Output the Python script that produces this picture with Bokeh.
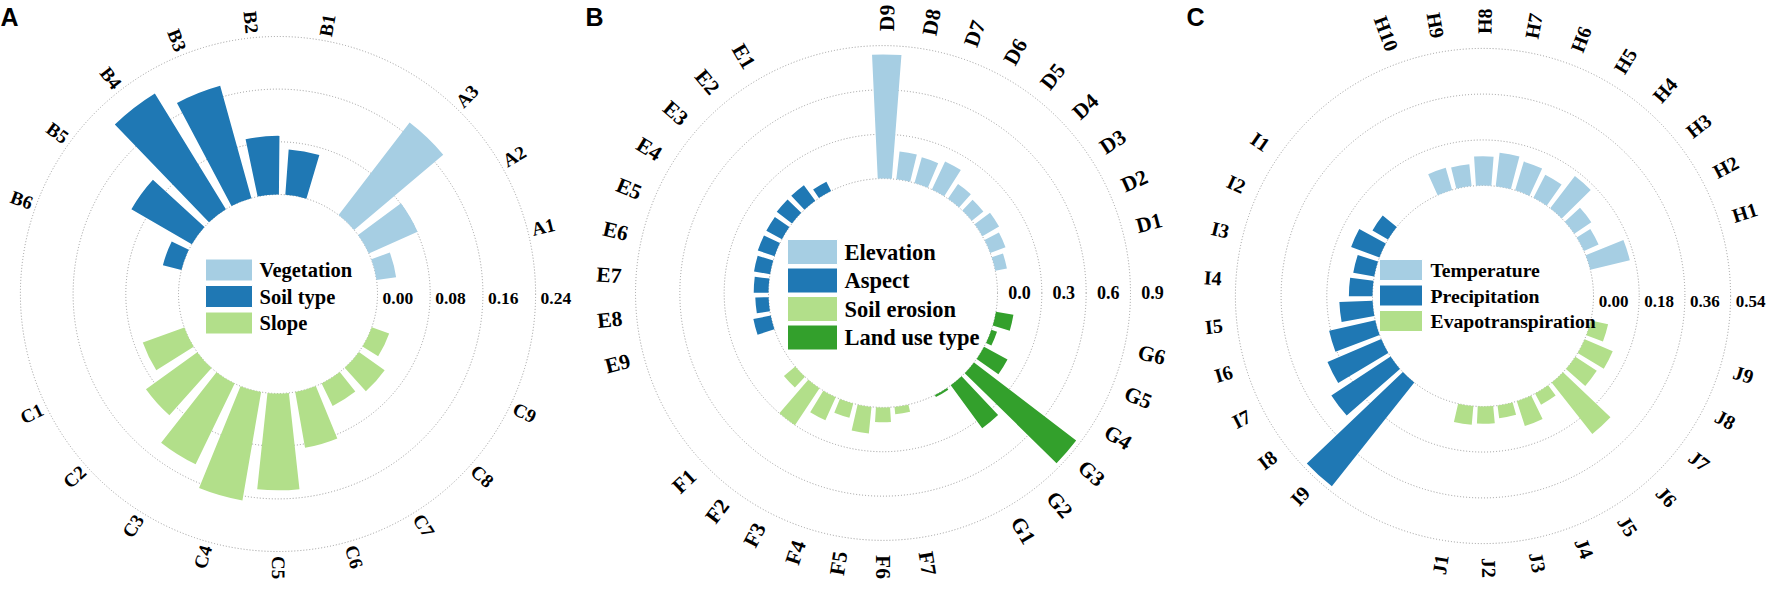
import numpy as np
from bokeh.plotting import figure
from bokeh.models import Range1d
from bokeh.core.properties import value
from bokeh.embed import file_html
from bokeh.resources import INLINE

# ---------------- data ----------------
# Panel A
vegetation_labels = ["A1", "A2", "A3"]
vegetation = [0.030, 0.081, 0.177]
soil_type_labels = ["B1", "B2", "B3", "B4", "B5", "B6"]
soil_type = [0.069, 0.089, 0.177, 0.206, 0.106, 0.029]
slope_labels = ["C1", "C2", "C3", "C4", "C5", "C6", "C7", "C8", "C9"]
slope = [0.067, 0.096, 0.136, 0.167, 0.147, 0.086, 0.038, 0.048, 0.028]
a_ticks = [0.00, 0.08, 0.16, 0.24]
a_tick_labels = ["0.00", "0.08", "0.16", "0.24"]

# Panel B
elevation_labels = ["D1", "D2", "D3", "D4", "D5", "D6", "D7", "D8", "D9"]
elevation = [0.08, 0.11, 0.13, 0.10, 0.12, 0.21, 0.18, 0.19, 0.84]
aspect_labels = ["E1", "E2", "E3", "E4", "E5", "E6", "E7", "E8", "E9"]
aspect = [0.07, 0.13, 0.13, 0.12, 0.12, 0.11, 0.10, 0.09, 0.12]
soil_erosion_labels = ["F1", "F2", "F3", "F4", "F5", "F6", "F7"]
soil_erosion = [0.10, 0.30, 0.17, 0.10, 0.18, 0.10, 0.05]
land_use_labels = ["G1", "G2", "G3", "G4", "G5", "G6"]
land_use_type = [0.015, 0.36, 0.87, 0.18, 0.04, 0.12]
b_ticks = [0.0, 0.3, 0.6, 0.9]
b_tick_labels = ["0.0", "0.3", "0.6", "0.9"]

# Panel C
temperature_labels = ["H1", "H2", "H3", "H4", "H5", "H6", "H7", "H8", "H9", "H10"]
temperature = [0.160, 0.063, 0.081, 0.160, 0.102, 0.118, 0.133, 0.115, 0.086, 0.091]
precipitation_labels = ["I1", "I2", "I3", "I4", "I5", "I6", "I7", "I8", "I9"]
precipitation = [0.071, 0.119, 0.084, 0.093, 0.131, 0.186, 0.230, 0.279, 0.522]
evapo_labels = ["J1", "J2", "J3", "J4", "J5", "J6", "J7", "J8", "J9"]
evapotranspiration = [0.074, 0.068, 0.050, 0.103, 0.050, 0.258, 0.101, 0.120, 0.070]
c_ticks = [0.00, 0.18, 0.36, 0.54]
c_tick_labels = ["0.00", "0.18", "0.36", "0.54"]

# ---------------- style ----------------
LB, DB, LG, DG = "#a6cee3", "#1f78b4", "#b2df8a", "#33a02c"
SERIF = value("Liberation Serif")
SANS = value("Liberation Sans")

W, H = 1766, 580
TOP = 588  # data y = TOP - screen y


def Y(yref):
    return TOP - yref


p = figure(width=W, height=H, x_range=Range1d(8, 8 + W), y_range=Range1d(0, H),
           output_backend="svg", toolbar_location=None, min_border=0,
           x_axis_location=None, y_axis_location=None, outline_line_color=None)
p.grid.visible = False
p.background_fill_color = "white"


def draw_panel(cfg, groups):
    cx, cy = cfg["cx"], Y(cfg["cy"])
    r0, k = cfg["r0"], cfg["k"]
    # dotted rings
    radii = [r0 + t * k for t in cfg["ticks"]]
    p.circle(x=[cx] * len(radii), y=[cy] * len(radii), radius=radii,
             fill_color=None, line_color="#999999", line_width=1, line_dash="1 2")
    slot = cfg["slot"]
    half = slot * cfg["wfrac"] / 2.0
    for (name, labs, vals, color), st in zip(groups, cfg["starts"]):
        ang = st + slot * np.arange(len(vals))
        outer = r0 + np.asarray(vals) * k
        p.annular_wedge(x=cx, y=cy, inner_radius=r0, outer_radius=outer,
                        start_angle=np.deg2rad(ang - half), end_angle=np.deg2rad(ang + half),
                        fill_color=color, line_color=None)
        # category labels
        rs = cfg["rs"]
        a = np.mod(ang, 360)
        right = (a <= 90.5) | (a >= 269.5)
        lx = cx + rs * np.cos(np.deg2rad(a))
        ly = cy + rs * np.sin(np.deg2rad(a))
        labs = np.asarray(labs)
        if right.any():
            p.text(x=lx[right], y=ly[right], text=labs[right], angle=np.deg2rad(a[right]),
                   text_align="left", text_baseline="middle", text_font=SERIF,
                   text_font_style="bold", text_font_size=cfg["lab_fs"], text_color="black")
        left = ~right
        if left.any():
            p.text(x=lx[left], y=ly[left], text=labs[left], angle=np.deg2rad(a[left] - 180),
                   text_align="right", text_baseline="middle", text_font=SERIF,
                   text_font_style="bold", text_font_size=cfg["lab_fs"], text_color="black")
    # tick labels
    tx = [cx + r + cfg["tick_dx"] for r in radii]
    ty = [cy - cfg["tick_dy"]] * len(radii)
    p.text(x=tx, y=ty, text=cfg["tick_labels"], text_align=cfg["tick_align"],
           text_baseline="middle", text_font=SERIF, text_font_style="bold",
           text_font_size=cfg["tick_fs"], text_color="black")
    # legend
    lg = cfg["legend"]
    n = len(groups)
    rows = [Y(lg["y0"] + i * lg["pitch"]) for i in range(n)]
    p.rect(x=[cx + lg["sx"] + lg["sw"] / 2] * n, y=rows, width=lg["sw"], height=lg["sh"],
           fill_color=[g[3] for g in groups], line_color="white", line_width=1)
    p.text(x=[cx + lg["tx"]] * n, y=rows, text=[g[0] for g in groups], text_align="left",
           text_baseline="middle", text_font=SERIF, text_font_style="bold",
           text_font_size=lg["fs"], text_color="black")
    # panel letter
    p.text(x=[cfg["letter_x"]], y=[Y(cfg["letter_y"])], text=[cfg["letter"]], text_align="left",
           text_baseline="top", text_font=SANS, text_font_style="bold",
           text_font_size="25px", text_color="black")


panel_a = dict(cx=285.5, cy=301.5, r0=99.5, k=52.7 / 0.08, ticks=a_ticks, tick_labels=a_tick_labels,
               slot=16.05, wfrac=0.77, starts=[14.2, 79.6, 205.9], rs=262, lab_fs="19px",
               tick_dx=5, tick_dy=4, tick_align="left", tick_fs="17.5px",
               legend=dict(y0=277.5, pitch=26.5, sx=-72.5, sw=47, sh=22, tx=-18.5, fs="20.5px"),
               letter="A", letter_x=8, letter_y=10)
panel_b = dict(cx=890.5, cy=300.5, r0=114.5, k=44.33 / 0.3, ticks=b_ticks, tick_labels=b_tick_labels,
               slot=9.3, wfrac=0.76, starts=[14.7, 120.5, 223.5, 300.5], rs=262, lab_fs="21.5px",
               tick_dx=22, tick_dy=-1, tick_align="center", tick_fs="18px",
               legend=dict(y0=259.5, pitch=28.5, sx=-95.5, sw=50, sh=25, tx=-38.5, fs="22.5px"),
               letter="B", letter_x=593, letter_y=10)
panel_c = dict(cx=1490.5, cy=303.5, r0=110.5, k=45.7 / 0.18, ticks=c_ticks, tick_labels=c_tick_labels,
               slot=10.28, wfrac=0.78, starts=[17.7, 145.3, 261.0], rs=262, lab_fs="20px",
               tick_dx=20, tick_dy=5, tick_align="center", tick_fs="17px",
               legend=dict(y0=277.5, pitch=25.5, sx=-103.5, sw=43, sh=21, tx=-52.5, fs="19.7px"),
               letter="C", letter_x=1194, letter_y=10)

draw_panel(panel_a, [("Vegetation", vegetation_labels, vegetation, LB),
                     ("Soil type", soil_type_labels, soil_type, DB),
                     ("Slope", slope_labels, slope, LG)])
draw_panel(panel_b, [("Elevation", elevation_labels, elevation, LB),
                     ("Aspect", aspect_labels, aspect, DB),
                     ("Soil erosion", soil_erosion_labels, soil_erosion, LG),
                     ("Land use type", land_use_labels, land_use_type, DG)])
draw_panel(panel_c, [("Temperature", temperature_labels, temperature, LB),
                     ("Precipitation", precipitation_labels, precipitation, DB),
                     ("Evapotranspiration", evapo_labels, evapotranspiration, LG)])

open("out.html", "w").write(file_html(p, INLINE))
